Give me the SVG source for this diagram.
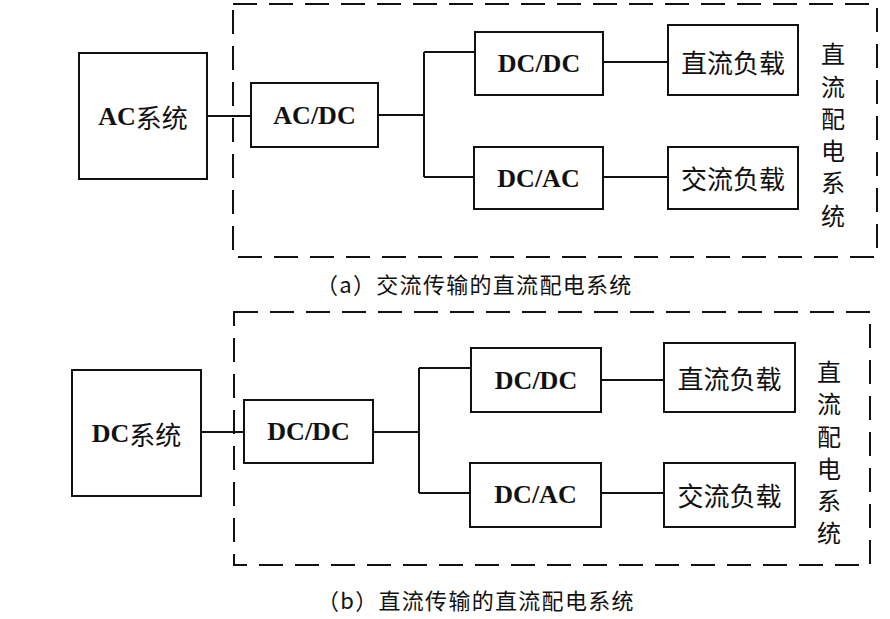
<svg xmlns="http://www.w3.org/2000/svg" width="890" height="619" viewBox="0 0 890 619">
<style>
.bg{fill:#fff}
.box{fill:#fff;stroke:#111;stroke-width:2}
.dash{fill:none;stroke:#111;stroke-width:2;stroke-dasharray:24 12}
.ln{fill:none;stroke:#111;stroke-width:2}
.lb{font-family:"Liberation Serif","Noto Sans CJK SC",serif;font-size:26px;font-weight:bold;fill:#111;text-anchor:middle;dominant-baseline:central}
.cj{font-family:"Noto Sans CJK SC","Liberation Serif",serif;font-size:26px;fill:#111;text-anchor:middle;dominant-baseline:central}
.vt{font-family:"Noto Sans CJK SC","Liberation Serif",serif;font-size:24px;fill:#111;text-anchor:middle;dominant-baseline:central}
.cap{font-family:"Noto Sans CJK SC","Liberation Serif",serif;font-size:22px;fill:#111;dominant-baseline:central;letter-spacing:1.3px}
</style>
<rect class="bg" x="0" y="0" width="890" height="619"/>

<!-- (a) -->
<g id="groupA">
<rect class="dash" x="233" y="4" width="644" height="253"/>
</g>
<g id="connectorsA">
<line class="ln" x1="207" y1="116" x2="251" y2="116"/>
<line class="ln" x1="378" y1="115" x2="424" y2="115"/>
<line class="ln" x1="424" y1="52" x2="424" y2="177"/>
<line class="ln" x1="424" y1="52" x2="475" y2="52"/>
<line class="ln" x1="424" y1="177" x2="474" y2="177"/>
<line class="ln" x1="603" y1="62" x2="668" y2="62"/>
<line class="ln" x1="603" y1="177" x2="668" y2="177"/>
</g>
<g id="acsys"><rect class="box" x="79" y="53" width="128" height="126"/><text class="lb" x="143" y="116">AC<tspan font-family="Noto Sans CJK SC" font-weight="normal">系统</tspan></text></g>
<g id="acdc"><rect class="box" x="251" y="83" width="127" height="64"/><text class="lb" x="314.5" y="115">AC/DC</text></g>
<g id="dcdcA"><rect class="box" x="475" y="32" width="128" height="63"/><text class="lb" x="539" y="63">DC/DC</text></g>
<g id="dcacA"><rect class="box" x="474" y="147" width="129" height="62"/><text class="lb" x="538.5" y="178">DC/AC</text></g>
<g id="dcloadA"><rect class="box" x="668" y="25" width="130" height="70"/><text class="cj" x="733" y="61">直流负载</text></g>
<g id="acloadA"><rect class="box" x="668" y="147" width="130" height="62"/><text class="cj" x="733" y="177">交流负载</text></g>
<g id="vtextA">
<text class="vt" x="833" y="52">直</text>
<text class="vt" x="833" y="85">流</text>
<text class="vt" x="833" y="117">配</text>
<text class="vt" x="833" y="149">电</text>
<text class="vt" x="833" y="181">系</text>
<text class="vt" x="833" y="214">统</text>
</g>
<text class="cap" x="316" y="283">（a）交流传输的直流配电系统</text>

<!-- (b) -->
<g id="groupB">
<rect class="dash" x="234" y="312" width="636" height="253"/>
</g>
<g id="connectorsB">
<line class="ln" x1="201" y1="432" x2="244" y2="432"/>
<line class="ln" x1="373" y1="432" x2="419" y2="432"/>
<line class="ln" x1="419" y1="368" x2="419" y2="493"/>
<line class="ln" x1="419" y1="368" x2="471" y2="368"/>
<line class="ln" x1="419" y1="493" x2="470" y2="493"/>
<line class="ln" x1="601" y1="380" x2="664" y2="380"/>
<line class="ln" x1="601" y1="493" x2="664" y2="493"/>
</g>
<g id="dcsys"><rect class="box" x="72" y="370" width="129" height="126"/><text class="lb" x="136.5" y="433">DC<tspan font-family="Noto Sans CJK SC" font-weight="normal">系统</tspan></text></g>
<g id="dcdcIn"><rect class="box" x="244" y="400" width="129" height="63"/><text class="lb" x="308.5" y="431">DC/DC</text></g>
<g id="dcdcB"><rect class="box" x="471" y="348" width="130" height="64"/><text class="lb" x="536" y="380">DC/DC</text></g>
<g id="dcacB"><rect class="box" x="470" y="463" width="131" height="64"/><text class="lb" x="535.5" y="494">DC/AC</text></g>
<g id="dcloadB"><rect class="box" x="664" y="343" width="131" height="69"/><text class="cj" x="729.5" y="377">直流负载</text></g>
<g id="acloadB"><rect class="box" x="664" y="463" width="131" height="64"/><text class="cj" x="729.5" y="494">交流负载</text></g>
<g id="vtextB">
<text class="vt" x="829" y="370">直</text>
<text class="vt" x="829" y="402">流</text>
<text class="vt" x="829" y="435">配</text>
<text class="vt" x="829" y="467">电</text>
<text class="vt" x="829" y="499">系</text>
<text class="vt" x="829" y="531">统</text>
</g>
<text class="cap" x="317" y="599">（b）直流传输的直流配电系统</text>
</svg>
